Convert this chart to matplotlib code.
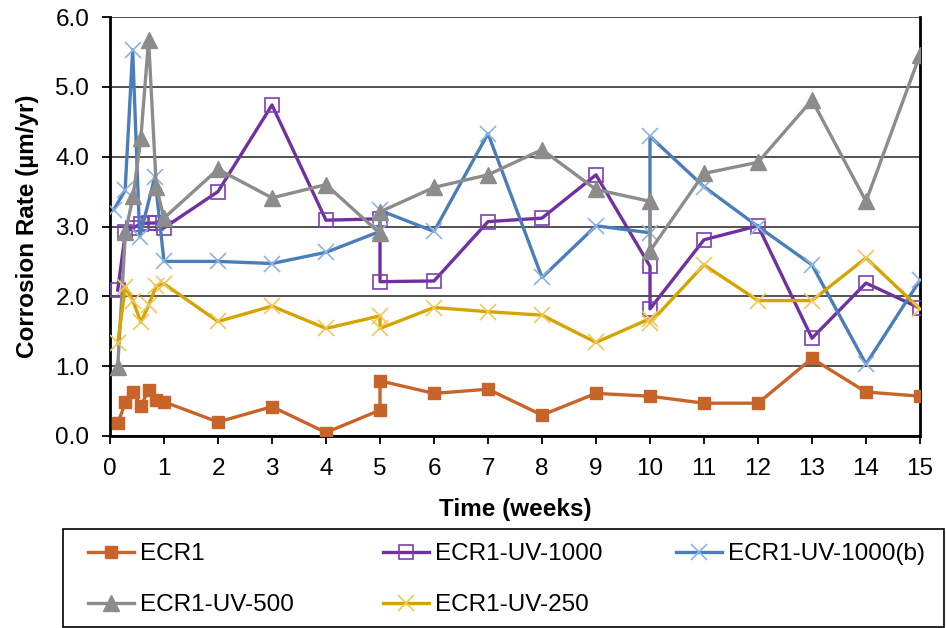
import matplotlib
matplotlib.use("Agg")
import matplotlib.pyplot as plt
from matplotlib.patches import Rectangle
import numpy as np

plt.rcParams['font.family'] = ['Liberation Sans', 'DejaVu Sans']

early = [1/7, 2/7, 3/7, 4/7, 5/7, 6/7, 1.0]

ecr1_x = early + [2, 3, 4, 5, 5, 6, 7, 8, 9, 10, 11, 12, 13, 14, 15]
ecr1_y = [0.18, 0.48, 0.63, 0.43, 0.66, 0.52, 0.49,
          0.20, 0.42, 0.05, 0.37, 0.79, 0.61, 0.67, 0.30, 0.61, 0.57, 0.47, 0.47, 1.11, 0.63, 0.57]

uv1000_x = early + [2, 3, 4, 5, 5, 6, 7, 8, 9, 10, 10, 11, 12, 13, 14, 15]
uv1000_y = [2.09, 2.92, 2.98, 3.04, 3.05, 3.05, 2.98,
            3.50, 4.74, 3.09, 3.11, 2.21, 2.22, 3.07, 3.12, 3.74, 2.43, 1.82, 2.81, 3.01, 1.40, 2.19, 1.83]

uv1000b_x = [0.07, 0.28, 0.42, 0.55, 0.83, 1.0, 2, 3, 4, 5, 5, 6, 7, 8, 9, 10, 10, 11, 12, 13, 14, 15]
uv1000b_y = [3.24, 3.52, 5.53, 2.85, 3.71, 2.50,
             2.50, 2.47, 2.63, 2.93, 3.23, 2.93, 4.33, 2.27, 3.01, 2.91, 4.29, 3.57, 3.00, 2.45, 1.03, 2.23]

uv500_x = early + [2, 3, 4, 5, 5, 6, 7, 8, 9, 10, 10, 11, 12, 13, 14, 15]
uv500_y = [0.99, 2.92, 3.43, 4.27, 5.67, 3.57, 3.12,
           3.82, 3.41, 3.60, 2.90, 3.21, 3.56, 3.74, 4.10, 3.53, 3.36, 2.65, 3.76, 3.92, 4.81, 3.36, 5.46]

uv250_x = early + [2, 3, 4, 5, 5, 6, 7, 8, 9, 10, 10, 11, 12, 13, 14, 15]
uv250_y = [1.33, 2.14, 1.93, 1.63, 1.87, 2.15, 2.18,
           1.64, 1.86, 1.54, 1.72, 1.54, 1.84, 1.78, 1.73, 1.34, 1.68, 1.62, 2.45, 1.94, 1.94, 2.55, 1.82]

labels = ["ECR1", "ECR1-UV-1000", "ECR1-UV-1000(b)", "ECR1-UV-500", "ECR1-UV-250"]

FS = 17.5
fig = plt.figure(figsize=(9.47, 6.28), dpi=100)
W, H = 947, 628
ax = fig.add_axes([110 / W, 1 - 436 / H, (920 - 110) / W, (436 - 17) / H])

lw = 2.4
h1, = ax.plot(ecr1_x, ecr1_y, color='#C8642A', lw=lw, marker='s', ms=9,
              mfc='#C8642A', mec='#C8642A', label=labels[0], zorder=3)
h2, = ax.plot(uv1000_x, uv1000_y, color='#7030A0', lw=lw, marker='s', ms=10,
              mfc='none', mec='#7B3FB0', mew=1.2, label=labels[1], zorder=3)
h3, = ax.plot(uv1000b_x, uv1000b_y, color='#4A7EBB', lw=lw, marker='x', ms=12,
              mec='#8DB3E2', mew=1.2, label=labels[2], zorder=3)
h4, = ax.plot(uv500_x, uv500_y, color='#8C8C8C', lw=lw, marker='^', ms=11,
              mfc='#8C8C8C', mec='#8C8C8C', label=labels[3], zorder=3)
h5, = ax.plot(uv250_x, uv250_y, color='#D6A400', lw=lw, marker='x', ms=12,
              mec='#F0C858', mew=1.2, label=labels[4], zorder=3)

ax.set_xlim(0, 15)
ax.set_ylim(0, 6)
ax.set_xticks(np.arange(0, 16, 1))
ax.set_yticks(np.arange(0, 6.5, 1))
ax.set_yticklabels([f"{v:.1f}" for v in np.arange(0, 6.5, 1)])
ax.grid(axis='y', color='#444444', lw=1.3, zorder=0)
ax.set_axisbelow(True)

for s in ['left', 'bottom', 'right']:
    ax.spines[s].set_color('black')
    ax.spines[s].set_linewidth(2.0)
ax.spines['top'].set_visible(False)
ax.tick_params(axis='both', direction='out', length=6, width=1.3, labelsize=FS, colors='black')
ax.tick_params(axis='y', pad=9)
ax.tick_params(axis='x', pad=10)

ax.set_xlabel("Time (weeks)", fontsize=FS, fontweight='bold', labelpad=13)
ax.set_ylabel("Corrosion Rate (µm/yr)", fontsize=FS, fontweight='bold', labelpad=12)

# legend frame
fig.patches.append(Rectangle((63 / W, 1 - 627 / H), (944 - 63) / W, (627 - 529) / H,
                             transform=fig.transFigure, fill=False, edgecolor='black',
                             lw=1.2, zorder=5))

cols = [([h1, h4], 88), ([h2, h5], 383), ([h3], 676)]
for hs, xpx in cols:
    lg = fig.legend(handles=hs, labels=[h.get_label() for h in hs],
                    loc='upper left', bbox_to_anchor=(xpx / W, 1 - 543 / H),
                    numpoints=1, fontsize=FS, frameon=False, borderaxespad=0,
                    borderpad=0, handlelength=1.9, handletextpad=0.25, labelspacing=1.2)

fig.savefig("out.png", dpi=100)
